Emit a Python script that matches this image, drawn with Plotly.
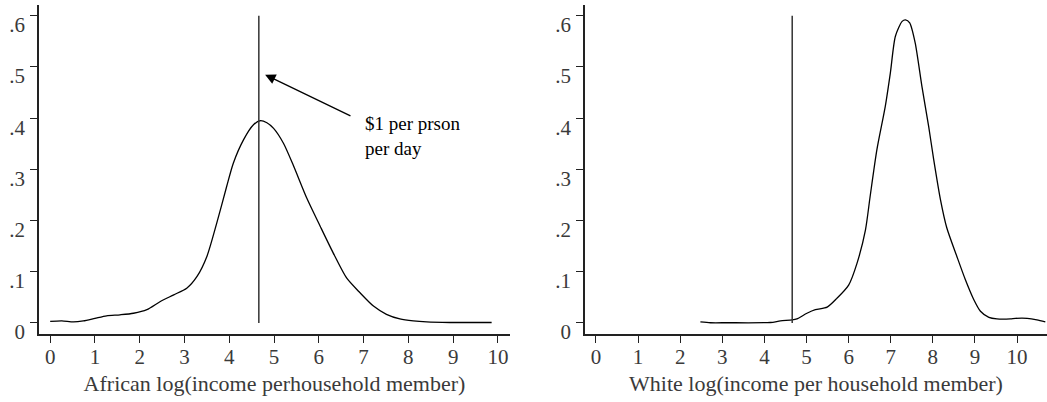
import plotly.graph_objects as go

# ---- data ----
african_x = [0.0, 0.26, 0.52, 0.74, 1.0, 1.26, 1.56, 1.86, 2.16, 2.46, 2.76, 3.05, 3.28, 3.5,
             3.72, 3.94, 4.09, 4.32, 4.54, 4.69, 4.84, 4.99, 5.21, 5.43, 5.73, 6.03, 6.32,
             6.62, 6.92, 7.22, 7.51, 7.81, 8.11, 8.41, 8.93, 9.86]
african_y = [0.003, 0.004, 0.002, 0.004, 0.009, 0.014, 0.016, 0.019, 0.026, 0.042, 0.055, 0.068,
             0.091, 0.130, 0.195, 0.266, 0.312, 0.358, 0.387, 0.395, 0.391, 0.380, 0.351, 0.308,
             0.244, 0.189, 0.137, 0.088, 0.059, 0.033, 0.017, 0.008, 0.004, 0.002, 0.001, 0.001]

white_x = [2.48, 2.72, 3.11, 4.14, 4.38, 4.66, 4.77, 5.01, 5.21, 5.49, 5.72, 6.0, 6.2, 6.4,
           6.51, 6.67, 6.87, 6.99, 7.11, 7.27, 7.35, 7.45, 7.58, 7.74, 7.9, 8.02, 8.18, 8.33,
           8.57, 8.77, 8.97, 9.13, 9.33, 9.52, 9.84, 9.96, 10.24, 10.47, 10.67]
white_y = [0.002, 0.0005, 0.0005, 0.001, 0.004, 0.006, 0.008, 0.019, 0.026, 0.031, 0.048, 0.074,
           0.117, 0.182, 0.247, 0.338, 0.423, 0.488, 0.560, 0.589, 0.592, 0.586, 0.547, 0.462,
           0.384, 0.319, 0.241, 0.186, 0.130, 0.085, 0.046, 0.023, 0.011, 0.008, 0.008, 0.009,
           0.009, 0.006, 0.002]

poverty_line_x = [4.66, 4.66]
poverty_line_y = [0.0, 0.6]

x_ticks = list(range(0, 11))
x_ticklabels = [str(v) for v in x_ticks]
y_ticks = [0, 0.1, 0.2, 0.3, 0.4, 0.5, 0.6]
y_ticklabels = ["0", ".1", ".2", ".3", ".4", ".5", ".6"]

left_title = "African log(income perhousehold member)"
right_title = "White log(income per household member)"
note_text = "$1 per prson<br>per day"

# ---- figure ----
FONT = "Liberation Serif, Times New Roman, serif"
TXT = "#3a3a3a"
AX = "#222222"

fig = go.Figure()

fig.add_trace(go.Scatter(x=african_x, y=african_y, mode="lines", line=dict(color="black", width=1.3, shape="spline", smoothing=0.7),
                         xaxis="x", yaxis="y", showlegend=False, hoverinfo="skip"))
fig.add_trace(go.Scatter(x=poverty_line_x, y=poverty_line_y, mode="lines", line=dict(color="#333333", width=1.5),
                         xaxis="x", yaxis="y", showlegend=False, hoverinfo="skip"))
fig.add_trace(go.Scatter(x=white_x, y=white_y, mode="lines", line=dict(color="black", width=1.3, shape="spline", smoothing=0.7),
                         xaxis="x2", yaxis="y2", showlegend=False, hoverinfo="skip"))
fig.add_trace(go.Scatter(x=poverty_line_x, y=poverty_line_y, mode="lines", line=dict(color="#333333", width=1.5),
                         xaxis="x2", yaxis="y2", showlegend=False, hoverinfo="skip"))

W, H = 1047, 402
ydom = [(H - 334) / H, (H - 5) / H]

common_x = dict(tickmode="array", tickvals=x_ticks, ticktext=x_ticklabels, showline=True, linecolor=AX, linewidth=1.5,
                ticks="outside", ticklen=7, tickcolor=AX, tickwidth=1.3, showgrid=False, zeroline=False,
                tickfont=dict(family=FONT, size=21, color=TXT), title_font=dict(family=FONT, size=22, color=TXT),
                title_standoff=8, ticklabelstandoff=-4, ticklabeloverflow="allow", automargin=False)
common_y = dict(tickmode="array", tickvals=y_ticks, ticktext=y_ticklabels, showline=True, linecolor=AX, linewidth=1.5,
                ticks="outside", ticklen=7, tickcolor=AX, tickwidth=1.3, showgrid=False, zeroline=False,
                tickfont=dict(family=FONT, size=21, color=TXT), range=[-0.0215, 0.621], domain=ydom,
                ticklabelshift=9, ticklabelstandoff=1, ticklabeloverflow="allow", automargin=False)

fig.update_layout(
    width=W, height=H, margin=dict(l=0, r=0, t=0, b=0),
    paper_bgcolor="white", plot_bgcolor="white",
    xaxis=dict(common_x, domain=[39 / W, 510 / W], range=[-0.25, 10.27], anchor="y",
               title=dict(text=left_title)),
    yaxis=dict(common_y, anchor="x"),
    xaxis2=dict(common_x, domain=[585 / W, 1.0], range=[-0.26, 10.71], anchor="y2",
                title=dict(text=right_title)),
    yaxis2=dict(common_y, anchor="x2"),
)

fig.add_annotation(x=4.80, y=0.485, ax=6.74, ay=0.403, xref="x", yref="y", axref="x", ayref="y",
                   text="", showarrow=True, arrowhead=2, arrowsize=1.6, arrowwidth=1.3, arrowcolor="black")
fig.add_annotation(x=6.99, y=0.366, xref="x", yref="y", text=note_text, showarrow=False,
                   xanchor="left", yanchor="middle", align="left",
                   font=dict(family=FONT, size=19, color="black"))

fig.write_html("out.html")
